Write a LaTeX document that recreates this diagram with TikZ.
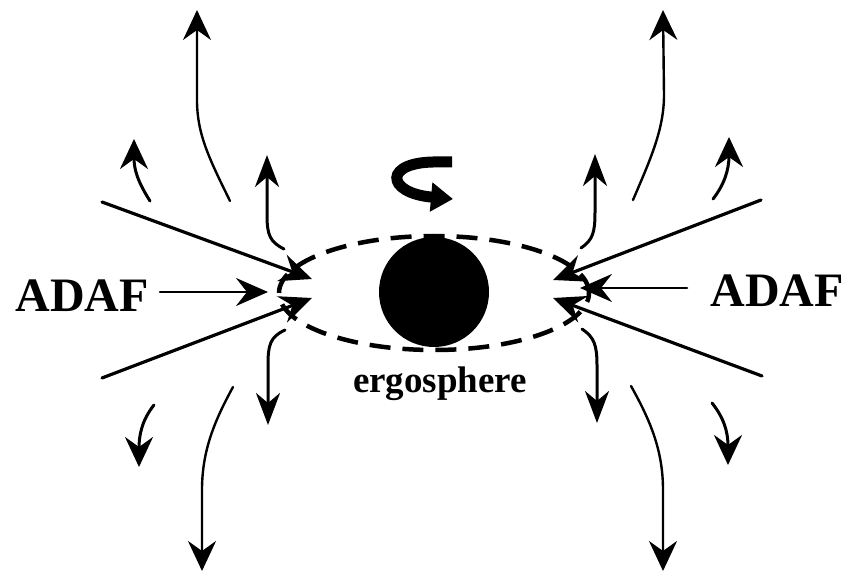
\documentclass[tikz,border=0pt]{standalone}
\usepackage{fontspec}
\setmainfont{Liberation Serif}
\usetikzlibrary{arrows.meta,shapes.geometric}
\begin{document}
\begin{tikzpicture}[x=1pt,y=-1pt,
  flow/.style={line width=2.6pt,line cap=round,-{Stealth[length=30pt,width=28pt,inset=10pt]}},
  inflow/.style={line width=3.2pt,line cap=round,-{Stealth[length=32pt,width=28pt,inset=11pt]}},
  label/.style={font=\bfseries,inner sep=0pt}]
\useasboundingbox (0,0) rectangle (844,572);
% black hole and ergosphere
\node[ellipse,draw,line width=4.5pt,dash pattern=on 21pt off 12pt,minimum width=310pt,minimum height=114pt,inner sep=0pt] (ergo) at (434,293) {};
\node[circle,fill=black,minimum size=110pt,inner sep=0pt] (bh) at (434,292) {};
\node[label,font=\bfseries\fontsize{37}{40}\selectfont,anchor=base] (ergotxt) at (440,392) {ergosphere};
% ADAF labels
\node[label,font=\bfseries\fontsize{48}{52}\selectfont,anchor=base] (adafL) at (82,312) {ADAF};
\node[label,font=\bfseries\fontsize{48}{52}\selectfont,anchor=base] (adafR) at (777,307) {ADAF};
% rotation arrow
\coordinate (rotA) at (452,162);
\coordinate (rotB) at (438,162);
\coordinate (rotC) at (453,199);
\draw[line width=11pt,line cap=butt,-{Triangle[length=22pt,width=28pt]}] (rotA) -- (rotB) .. controls (383,161) and (385,193) .. (rotC);
% coordinates of inflow
\coordinate (inLa) at (102,202); \coordinate (tipLa) at (312,279);
\coordinate (inLb) at (102,378); \coordinate (tipLb) at (312,298);
\coordinate (adLs) at (160,292); \coordinate (adLt) at (268,292);
\coordinate (inRa) at (761,200); \coordinate (tipRa) at (553,280);
\coordinate (inRb) at (762,376); \coordinate (tipRb) at (553,298);
\coordinate (adRs) at (687,288); \coordinate (adRt) at (580,288);
\draw[inflow] (inLa) -- (tipLa);
\draw[inflow] (inLb) -- (tipLb);
\draw[inflow,line width=2.6pt] (adLs) -- (adLt);
\draw[inflow] (inRa) -- (tipRa);
\draw[inflow] (inRb) -- (tipRb);
\draw[inflow,line width=2.6pt] (adRs) -- (adRt);
% outflow, left
\coordinate (L1s) at (230,201); \coordinate (L1t) at (197,10);
\coordinate (L2s) at (150,201); \coordinate (L2t) at (134,139);
\coordinate (L3s) at (284,249); \coordinate (L3t) at (267,155);
\coordinate (L4s) at (285,330); \coordinate (L4t) at (268,425);
\coordinate (L5s) at (154,405); \coordinate (L5t) at (139,467);
\coordinate (L6s) at (233,387); \coordinate (L6t) at (202,571);
\draw[flow,line width=2.4pt] (L1s) .. controls (210,160) and (197,135) .. (197,100) -- (L1t);
\draw[flow,line width=3pt] (L2s) .. controls (138,182) and (134,170) .. (L2t);
\draw[flow,line width=3pt,-{Stealth[length=32pt,width=24pt,inset=10pt]}] (L3s) .. controls (270,242) and (267,235) .. (267,215) -- (L3t);
\draw[flow,line width=3pt,-{Stealth[length=32pt,width=24pt,inset=10pt]}] (L4s) .. controls (270,337) and (268,345) .. (268,365) -- (L4t);
\draw[flow,line width=3pt] (L5s) .. controls (142,420) and (139,435) .. (L5t);
\draw[flow,line width=2.4pt] (L6s) .. controls (215,420) and (202,450) .. (202,490) -- (L6t);
% outflow, right
\coordinate (R1s) at (633,200); \coordinate (R1t) at (663,10);
\coordinate (R2s) at (713,199); \coordinate (R2t) at (729,137);
\coordinate (R3s) at (581,248); \coordinate (R3t) at (595,154);
\coordinate (R4s) at (582,329); \coordinate (R4t) at (597,423);
\coordinate (R5s) at (712,403); \coordinate (R5t) at (728,465);
\coordinate (R6s) at (631,386); \coordinate (R6t) at (663,571);
\draw[flow,line width=2.4pt] (R1s) .. controls (650,160) and (664,130) .. (664,95) -- (R1t);
\draw[flow,line width=3pt] (R2s) .. controls (724,185) and (729,170) .. (R2t);
\draw[flow,line width=3pt,-{Stealth[length=32pt,width=24pt,inset=10pt]}] (R3s) .. controls (593,240) and (595,232) .. (595,212) -- (R3t);
\draw[flow,line width=3pt,-{Stealth[length=32pt,width=24pt,inset=10pt]}] (R4s) .. controls (594,337) and (597,345) .. (597,365) -- (R4t);
\draw[flow,line width=3pt] (R5s) .. controls (724,418) and (728,432) .. (R5t);
\draw[flow,line width=2.4pt] (R6s) .. controls (650,420) and (663,450) .. (663,490) -- (R6t);
\end{tikzpicture}
\end{document}
